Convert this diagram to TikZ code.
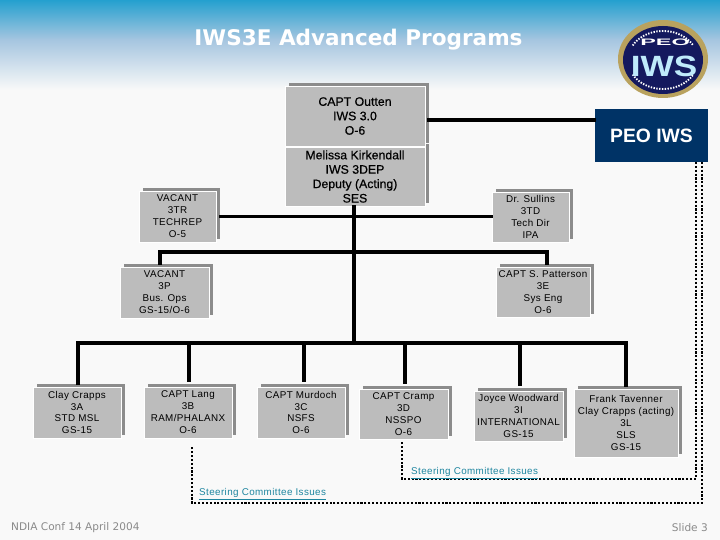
\documentclass[tikz,border=0pt]{standalone}
\usepackage{fontspec}
\setmainfont{Liberation Sans}
\newfontfamily\verdanafont{DejaVu Sans}
\newfontfamily\boxfont[LetterSpace=4]{Liberation Sans}
\newfontfamily\headfont[FakeBold=0.5]{Liberation Sans}
\usetikzlibrary{calc, shadows}
\definecolor{boxgray}{HTML}{BCBCBC}
\definecolor{shadowgray}{HTML}{8C8C8C}
\definecolor{peonavy}{HTML}{003366}
\definecolor{linkteal}{HTML}{1F86A0}
\definecolor{footgray}{HTML}{8A8A8A}
\definecolor{paper}{HTML}{F9F9F9}
\definecolor{skytop}{HTML}{24A0CF}
\definecolor{skymid}{HTML}{A6C6E0}
\definecolor{logogold}{HTML}{B9A25E}
\definecolor{logonavy}{HTML}{14195E}
\tikzset{
  orgbox/.style={draw=white, line width=0.4pt, fill=boxgray, inner sep=0pt, align=center,
    font=\boxfont\fontsize{8.4}{10.2}\selectfont,
    general shadow={fill=shadowgray, shadow xshift=0.11cm, shadow yshift=0.08cm}},
  headbox/.style={orgbox, font=\headfont\fontsize{10.5}{12.3}\selectfont},
  lowered/.style={execute at begin node=\rule{0pt}{13pt}},
  orgline/.style={line width=2.6pt, draw=black, line cap=rect},
  dotline/.style={line width=1.3pt, draw=black, dash pattern=on 1.8pt off 1.5pt},
  logoring/.style={white, line width=1.6pt, dash pattern=on 1.2pt off 1.2pt},
  linklabel/.style={text=linkteal, inner sep=0pt, font=\boxfont\fontsize{8.4}{10}\selectfont},
  footlabel/.style={text=footgray, inner sep=0pt, font=\verdanafont\fontsize{9}{10}\selectfont}
}
\begin{document}
\begin{tikzpicture}[x=0.03cm,y=-0.03cm]
  \useasboundingbox (0,0) rectangle (720,540);

  % sfondo
  \fill[paper] (0,0) rectangle (720,540);
  \shade[top color=skytop, bottom color=skymid] (0,0) rectangle (720,40);
  \shade[top color=skymid, bottom color=paper] (0,40) rectangle (720,90);

  % titolo
  \node[text=white, inner sep=0pt, font=\verdanafont\bfseries\fontsize{18.4}{20}\selectfont] (title) at (358.5,39.5) {IWS3E Advanced Programs};

  % logo
  \fill[logogold] (663,59) ellipse (45 and 39);
  \fill[logonavy] (663,60) ellipse (40 and 34);
  \draw[logoring] ([shift={(210:35 and 29)}]663,60) arc[start angle=210, end angle=330, x radius=35, y radius=29];
  \draw[logoring] ([shift={(150:35 and 29)}]663,60) arc[start angle=150, end angle=30, x radius=35, y radius=29];
  \node[text=white, inner sep=0pt, xscale=2.5, font=\bfseries\fontsize{8}{8}\selectfont] (logopeo) at (665,42) {PEO};
  \node[text=white!75!cyan, inner sep=0pt, xscale=1.2, font=\bfseries\fontsize{25}{26}\selectfont] (logoiws) at (664,66) {IWS};

  % capi
  \node[headbox, minimum width=4.2cm, minimum height=1.77cm] (melissa) at (355,176.5) {Melissa Kirkendall\\IWS 3DEP\\Deputy (Acting)\\SES};
  \node[headbox, minimum width=4.2cm, minimum height=1.8cm] (outten) at (355,116) {CAPT Outten\\IWS 3.0\\O-6};
  \node[fill=peonavy, text=white, inner sep=0pt, minimum width=3.39cm, minimum height=1.59cm, font=\bfseries\fontsize{16.5}{18}\selectfont] (peo) at (651.5,135.5) {PEO IWS};

  % staff
  \node[orgbox, minimum width=2.31cm, minimum height=1.53cm] (techrep) at (177.5,216.5) {VACANT\\3TR\\TECHREP\\O-5};
  \node[orgbox, minimum width=2.67cm, minimum height=1.53cm] (busops) at (164.5,292.5) {VACANT\\3P\\Bus. Ops\\GS-15/O-6};
  \node[orgbox, minimum width=2.31cm, minimum height=1.5cm] (sullins) at (530.5,217) {Dr. Sullins\\3TD\\Tech Dir\\IPA};
  \node[orgbox, minimum width=2.82cm, minimum height=1.5cm] (patterson) at (543,292) {CAPT S. Patterson\\3E\\Sys Eng\\O-6};

  % divisioni
  \node[orgbox, lowered, minimum width=2.64cm, minimum height=1.53cm] (crapps) at (77,412.5) {Clay Crapps\\3A\\STD MSL\\GS-15};
  \node[orgbox, lowered, minimum width=2.64cm, minimum height=1.53cm] (lang) at (188,412.5) {CAPT Lang\\3B\\RAM/PHALANX\\O-6};
  \node[orgbox, minimum width=2.64cm, minimum height=1.53cm] (murdoch) at (301,412.5) {CAPT Murdoch\\3C\\NSFS\\O-6};
  \node[orgbox, minimum width=2.67cm, minimum height=1.5cm] (cramp) at (403.5,414) {CAPT Cramp\\3D\\NSSPO\\O-6};
  \node[orgbox, minimum width=2.67cm, minimum height=1.5cm] (woodward) at (518.5,416) {Joyce Woodward\\3I\\INTERNATIONAL\\GS-15};
  \node[orgbox, minimum width=3.12cm, minimum height=2.04cm] (tavenner) at (626,423) {Frank Tavenner\\Clay Crapps (acting)\\3L\\SLS\\GS-15};

  % punti liberi
  \coordinate (busjoin) at (354,343);
  \coordinate (busleft) at (78,343);
  \coordinate (busright) at (626,343);
  \coordinate (opsleft) at (160,252);
  \coordinate (opsright) at (547,252);
  \coordinate (peoout) at (702,162);
  \coordinate (peoin) at (696,162);
  \coordinate (outcorner) at (702,503);
  \coordinate (incorner) at (696,479);
  \coordinate (langdot) at (192,447);
  \coordinate (crampdot) at (402,442);
  \coordinate (headlink) at (429,120);

  % linee
  \draw[orgline] (headlink) -- (headlink -| peo.west);
  \draw[orgline] (melissa.south) ++(-1,0) -- (busjoin);
  \draw[orgline, shorten <=0.12cm] (techrep.east) -- (techrep.east -| sullins.west);
  \draw[orgline] (opsleft) -- (opsright);
  \draw[orgline, shorten >=0.1cm] (opsleft) -- (opsleft |- busops.north);
  \draw[orgline, shorten >=0.1cm] (opsright) -- (opsright |- patterson.north);
  \draw[orgline] (busleft) -- (busright);
  \draw[orgline, shorten >=0.1cm] (busleft) -- (busleft |- crapps.north);
  \draw[orgline, shorten >=0.1cm] (lang.north |- busleft) ++(1,0) -- ++(0,41);
  \draw[orgline, shorten >=0.1cm] (murdoch.north |- busleft) ++(3,0) -- ++(0,41);
  \draw[orgline, shorten >=0.1cm] (cramp.north |- busleft) ++(1.5,0) -- ++(0,43);
  \draw[orgline, shorten >=0.1cm] (woodward.north |- busleft) ++(1.5,0) -- ++(0,45);
  \draw[orgline, shorten >=0.1cm] (busright) -- (busright |- tavenner.north);

  % tratteggi
  \draw[dotline] (peoout) -- (outcorner) -- (outcorner -| langdot) -- (langdot);
  \draw[dotline] (peoin) -- (incorner) -- (incorner -| crampdot) -- (crampdot);

  % scritte
  \node[linklabel, anchor=west] (steerleft) at (199,494.5) {\underline{Steering Committee Issues}};
  \node[linklabel, anchor=west] (steerright) at (411,473.5) {\underline{Steering Committee Issues}};
  \node[footlabel, anchor=west] (conf) at (11,527.5) {NDIA Conf 14 April 2004};
  \node[footlabel, anchor=east] (slide) at (708,527.5) {Slide 3};
\end{tikzpicture}
\end{document}
